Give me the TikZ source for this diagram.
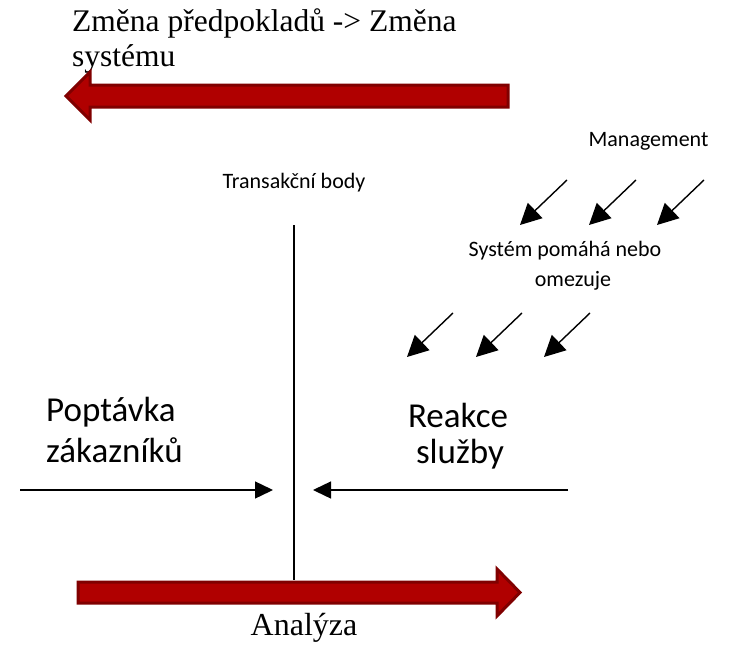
\documentclass[tikz,border=0pt]{standalone}
\usepackage{fontspec}
\setmainfont{Liberation Serif}
\newfontfamily\calibri{Carlito}
\usetikzlibrary{arrows.meta}
\definecolor{arrowfill}{RGB}{176,0,0}
\definecolor{arrowedge}{RGB}{128,0,0}
\tikzset{
  bigarrow/.style={fill=arrowfill,draw=arrowedge,line width=3pt,line join=miter},
  thinarrow/.style={line width=1.4pt,arrows={-Triangle[length=21pt,width=21pt]}},
  flatarrow/.style={line width=1.4pt,arrows={-Triangle[length=18pt,width=17pt]}},
  serifbig/.style={inner sep=0pt,anchor=base west,font=\fontsize{31.5}{36}\selectfont},
  smalllabel/.style={inner sep=0pt,anchor=base,font=\calibri\fontsize{22}{26}\selectfont},
  biglabel/.style={inner sep=0pt,anchor=base,font=\calibri\fontsize{35}{40}\selectfont}}
\begin{document}
\begin{tikzpicture}[x=1pt,y=-1pt]
\useasboundingbox (0,0) rectangle (731,648);

% heading and the wide left-pointing arrow
\node[serifbig] (head1) at (72,31) {Změna předpokladů -> Změna};
\node[serifbig] (head2) at (72,66) {systému};
\draw[bigarrow] (66,96) -- (90,72) -- (90,85) -- (508,85) -- (508,107)
  -- (90,107) -- (90,120) -- cycle;

% labels on the right
\node[smalllabel] (mgmt) at (648.5,146) {Management};
\node[smalllabel] (sys1) at (565,256) {Systém pomáhá nebo};
\node[smalllabel] (sys2) at (573,286) {omezuje};

% management pressure arrows
\coordinate (m1s) at (567,180); \coordinate (m1e) at (520,225);
\coordinate (m2s) at (636,180); \coordinate (m2e) at (589,225);
\coordinate (m3s) at (704,180); \coordinate (m3e) at (657,225);
\draw[thinarrow] (m1s) -- (m1e);
\draw[thinarrow] (m2s) -- (m2e);
\draw[thinarrow] (m3s) -- (m3e);

% system influence arrows
\coordinate (s1s) at (453,313); \coordinate (s1e) at (407,357);
\coordinate (s2s) at (522,313); \coordinate (s2e) at (476,357);
\coordinate (s3s) at (590,313); \coordinate (s3e) at (544,357);
\draw[thinarrow] (s1s) -- (s1e);
\draw[thinarrow] (s2s) -- (s2e);
\draw[thinarrow] (s3s) -- (s3e);

% transaction line
\node[smalllabel] (trans) at (294,188) {Transakční body};
\coordinate (ltop) at (294,225);
\coordinate (lbot) at (294,580);
\draw[line width=1.4pt] (ltop) -- (lbot);

% demand and response
\node[biglabel,anchor=base west] (dem1) at (46,421) {Poptávka};
\node[biglabel,anchor=base west] (dem2) at (46,462) {zákazníků};
\node[biglabel] (res1) at (458,427) {Reakce};
\node[biglabel] (res2) at (460,463) {služby};
\coordinate (dstart) at (20,490); \coordinate (dend) at (273,490);
\coordinate (rstart) at (568,490); \coordinate (rend) at (313,490);
\draw[flatarrow] (dstart) -- (dend);
\draw[flatarrow] (rstart) -- (rend);

% analysis arrow
\draw[bigarrow] (78,582) -- (497,582) -- (497,569) -- (520,592.5)
  -- (497,616) -- (497,603) -- (78,603) -- cycle;
\node[inner sep=0pt,anchor=base,font=\fontsize{32}{36}\selectfont] (anal) at (304,635) {Analýza};
\end{tikzpicture}
\end{document}
